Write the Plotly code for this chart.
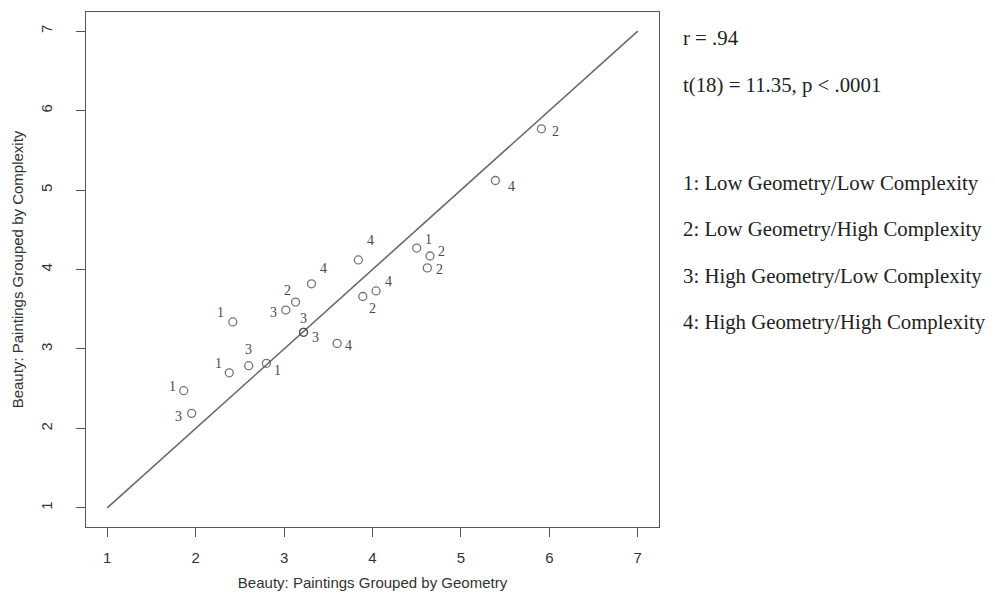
import plotly.graph_objects as go

# ---- data ----
geometry = [1.865, 1.955, 2.38, 2.60, 2.80, 2.42, 3.02, 3.13, 3.31, 3.22, 3.22,
            3.60, 3.84, 3.89, 4.04, 4.50, 4.65, 4.62, 5.39, 5.91]
complexity = [2.475, 2.19, 2.70, 2.79, 2.82, 3.34, 3.49, 3.59, 3.82, 3.21, 3.21,
              3.07, 4.12, 3.66, 3.73, 4.27, 4.17, 4.02, 5.12, 5.77]
groups = ["1", "3", "1", "3", "1", "1", "3", "2", "4", "3", "3",
          "4", "4", "2", "4", "1", "2", "2", "4", "2"]
identity_line = [1, 7]
tick_vals = [1, 2, 3, 4, 5, 6, 7]
stats_text = ["r = .94", "t(18) = 11.35, p < .0001"]
legend_text = ["1: Low Geometry/Low Complexity",
               "2: Low Geometry/High Complexity",
               "3: High Geometry/Low Complexity",
               "4: High Geometry/High Complexity"]

# label pixel offsets (dx right, dy down) -- styling only
label_offsets = [(-11, -4), (-13, 3), (-11, -9), (0, -16), (11, 7), (-12, -9),
                 (-12, 2), (-8, -12), (12, -15), (0, -14), (12, 5), (11, 2),
                 (12, -19), (10, 12), (12, -9), (12, -9), (12, -4), (12, 2),
                 (16, 6), (14, 3)]

# the page body has an 8px margin; lay the figure out in its own coordinates
PAGE_OFF = 8
W, H = 995 - PAGE_OFF, 596 - PAGE_OFF

fig = go.Figure()
fig.add_trace(go.Scatter(x=identity_line, y=identity_line, mode="lines",
                         line=dict(color="#6a6a6a", width=1.6),
                         hoverinfo="skip", showlegend=False))
fig.add_trace(go.Scatter(x=geometry, y=complexity, mode="markers",
                         marker=dict(symbol="circle-open", size=8,
                                     color="rgba(70,70,70,0.75)",
                                     line=dict(width=1.3)),
                         showlegend=False))

annotations = []
for xv, yv, g, (dx, dy) in zip(geometry, complexity, groups, label_offsets):
    annotations.append(dict(x=xv, y=yv, xref="x", yref="y", text=g,
                            showarrow=False, xshift=dx, yshift=-dy,
                            font=dict(family="Liberation Serif", size=14,
                                      color="#4a4a4a")))

# screen positions (px) of the target
text_rows_px = [38, 85]
legend_rows_px = [183, 229, 276, 322]
top_px, bot_px, left_px, right_px = 12, 527, 86, 659


def py(p):
    return (bot_px - p) / (bot_px - top_px)


def px(p):
    return (p - left_px) / (right_px - left_px)


for t, p in zip(stats_text + legend_text, text_rows_px + legend_rows_px):
    annotations.append(dict(x=px(681), y=py(p), xref="paper", yref="paper",
                            text=t, showarrow=False, xanchor="left",
                            yanchor="middle",
                            font=dict(family="Liberation Serif", size=20.8,
                                      color="#222222")))

axis_common = dict(range=[0.76, 7.24], tickvals=tick_vals, showgrid=False,
                   zeroline=False, showline=True, linecolor="#555555",
                   linewidth=1.3, mirror=True, ticks="outside", ticklen=9,
                   tickcolor="#555555", tickwidth=1.2, automargin=False,
                   tickfont=dict(family="Liberation Sans, Arial", size=15,
                                 color="#333333"))

fig.update_layout(
    width=W, height=H,
    margin=dict(l=left_px - PAGE_OFF, r=W - (right_px - PAGE_OFF),
                t=top_px - PAGE_OFF, b=H - (bot_px - PAGE_OFF),
                autoexpand=False),
    plot_bgcolor="white", paper_bgcolor="white",
    xaxis=dict(**axis_common, ticklabelstandoff=8,
               title=dict(text="Beauty: Paintings Grouped by Geometry",
                          font=dict(family="Liberation Sans, Arial", size=15,
                                    color="#333333"), standoff=12)),
    yaxis=dict(**axis_common, tickangle=-90, ticklabelstandoff=18,
               title=dict(text="Beauty: Paintings Grouped by Complexity",
                          font=dict(family="Liberation Sans, Arial", size=15,
                                    color="#333333"), standoff=10)),
    annotations=annotations,
)

fig.write_html("out.html")
